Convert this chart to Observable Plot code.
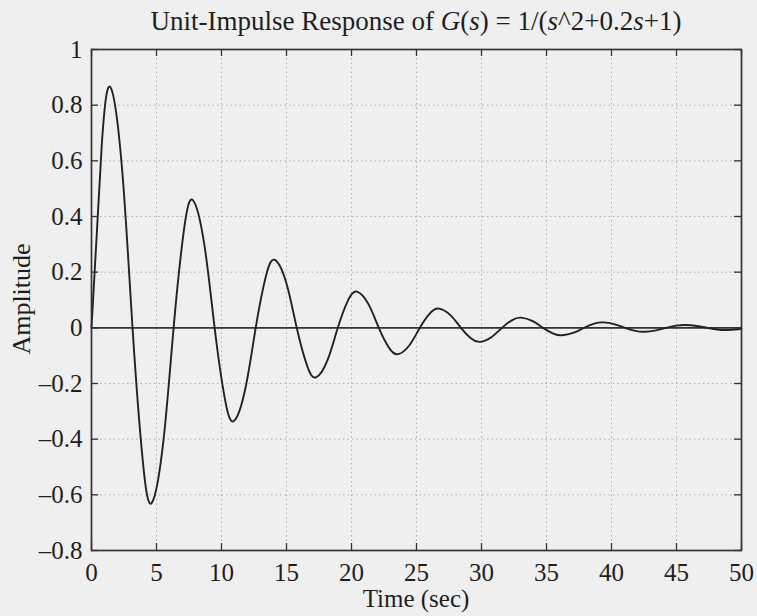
<!DOCTYPE html>
<html>
<head>
<meta charset="utf-8">
<script src="https://cdn.jsdelivr.net/npm/d3@7"></script>
<script src="https://cdn.jsdelivr.net/npm/@observablehq/plot@0.6"></script>
<style>
  html, body { margin: 0; padding: 0; background: #efefef; }
  #wrap { position: relative; width: 757px; height: 616px; font-family: "Liberation Serif", "DejaVu Serif", serif; color: #1e1e1e; }
  #title { position: absolute; top: 6px; left: 91px; width: 650px; text-align: center; font-size: 27px; line-height: 30px; white-space: nowrap; }
  #xlabel { position: absolute; top: 589px; left: 91px; width: 650px; text-align: center; font-size: 25px; line-height: 20px; }
  #ylabel { position: absolute; left: 22px; top: 299px; font-size: 26px; line-height: 28px; transform: translate(-50%, -50%) rotate(-90deg); white-space: nowrap; }
  #chart { position: absolute; left: 0; top: 0; }
</style>
</head>
<body>
<div id="wrap">
  <div id="chart"></div>
  <div id="title">Unit-Impulse Response of <i>G</i>(<i>s</i>) = 1/(<i>s</i>^2+0.2<i>s</i>+1)</div>
  <div id="ylabel">Amplitude</div>
  <div id="xlabel">Time (sec)</div>
</div>
<script>
// Time (sec) values: zero crossings, peaks and points between
const time = [
  0, 0.789, 1.478, 2.368, 3.157,
  3.947, 4.635, 5.525, 6.315,
  7.104, 7.793, 8.683, 9.472,
  10.261, 10.950, 11.840, 12.630,
  13.419, 14.108, 14.998, 15.787,
  16.576, 17.265, 18.155, 18.944,
  19.733, 20.422, 21.312, 22.102,
  22.891, 23.580, 24.470, 25.259,
  26.048, 26.737, 27.627, 28.417,
  29.206, 29.894, 30.785, 31.574,
  32.363, 33.052, 33.942, 34.731,
  35.521, 36.209, 37.099, 37.889,
  38.678, 39.367, 40.257, 41.046,
  41.836, 42.524, 43.414, 44.204,
  44.993, 45.682, 46.572, 47.361,
  48.150, 48.839, 49.729, 50
];
// Amplitude at each time above
const amplitude = [
  0, 0.657, 0.863, 0.561, 0,
  -0.479, -0.629, -0.409, 0,
  0.349, 0.459, 0.298, 0,
  -0.255, -0.335, -0.217, 0,
  0.186, 0.244, 0.159, 0,
  -0.135, -0.178, -0.116, 0,
  0.0988, 0.130, 0.0843, 0,
  -0.0720, -0.0946, -0.0615, 0,
  0.0525, 0.0690, 0.0449, 0,
  -0.0383, -0.0503, -0.0327, 0,
  0.0279, 0.0367, 0.0239, 0,
  -0.0204, -0.0268, -0.0174, 0,
  0.0149, 0.0195, 0.0127, 0,
  -0.0108, -0.0142, -0.0093, 0,
  0.0079, 0.0104, 0.0067, 0,
  -0.0058, -0.0076, -0.0049, -0.0033
];
const xTicks = [0, 5, 10, 15, 20, 25, 30, 35, 40, 45, 50];
const yTicks = [-0.8, -0.6, -0.4, -0.2, 0, 0.2, 0.4, 0.6, 0.8, 1];

const data = time.map((t, i) => ({t, a: amplitude[i]}));

const W = 757, H = 616;
const mL = 91, mR = 16, mT = 49, mB = 66;
const plotW = W - mL - mR, plotH = H - mT - mB;
const tickLen = 7;
const fmt = d => (d < 0 ? "\u2013" + String(Math.abs(d)) : String(d));

const chart = Plot.plot({
  width: W,
  height: H,
  marginLeft: mL,
  marginRight: mR,
  marginTop: mT,
  marginBottom: mB,
  style: {background: "transparent", fontFamily: "'Liberation Serif', serif", fontSize: "25px", color: "#1e1e1e", overflow: "visible"},
  x: {domain: [0, 50], ticks: xTicks, tickSize: 0, tickPadding: 13, tickFormat: fmt, label: null},
  y: {domain: [-0.8, 1], ticks: yTicks, tickSize: 0, tickPadding: 9, tickFormat: fmt, label: null},
  marks: [
    Plot.ruleX(xTicks, {x: d => d, stroke: "#b0b0b0", strokeWidth: 1, strokeDasharray: "1.5,3"}),
    Plot.ruleY(yTicks, {y: d => d, stroke: "#b0b0b0", strokeWidth: 1, strokeDasharray: "1.5,3"}),
    Plot.ruleY([0], {stroke: "#333", strokeWidth: 1.6}),
    Plot.line(data, {x: "t", y: "a", curve: "natural", stroke: "#222", strokeWidth: 1.9}),
    Plot.tickX(xTicks, {x: d => d, insetTop: plotH - tickLen, stroke: "#333", strokeWidth: 1.3}),
    Plot.tickX(xTicks, {x: d => d, insetBottom: plotH - tickLen, stroke: "#333", strokeWidth: 1.3}),
    Plot.tickY(yTicks, {y: d => d, insetRight: plotW - tickLen, stroke: "#333", strokeWidth: 1.3}),
    Plot.tickY(yTicks, {y: d => d, insetLeft: plotW - tickLen, stroke: "#333", strokeWidth: 1.3}),
    Plot.frame({stroke: "#333", strokeWidth: 1.7})
  ]
});
document.getElementById("chart").appendChild(chart);
</script>
</body>
</html>
